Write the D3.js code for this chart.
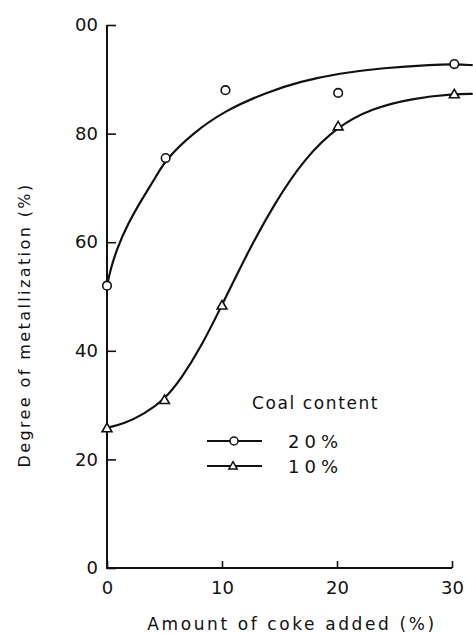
<!DOCTYPE html>
<html>
<head>
<meta charset="utf-8">
<script src="https://cdn.jsdelivr.net/npm/d3@7"></script>
<style>
  body { margin: 0; background: #fff; }
  text { font-family: "DejaVu Sans", sans-serif; fill: #111; }
</style>
</head>
<body>
<div id="plot_area"></div>
<script>
// measured points (coke added %, metallization %)
var coal20X = [0, 5.1, 10.3, 20.1, 30.2]
var coal20Y = [52, 75.5, 88, 87.5, 92.8]
var coal10X = [0, 5, 10, 20.1, 30.2]
var coal10Y = [25.8, 31, 48.4, 81.4, 87.3]

// hand-drawn fitted curves
var fit20X = [0, 0.3, 0.9, 1.8, 3.0, 4.3, 5.1, 7.4, 10.3, 13.9, 16.8, 20.2, 24, 28.4, 30.2, 31.8]
var fit20Y = [52, 55, 59, 63.3, 67.8, 72.2, 75.2, 80, 84.3, 87.6, 89.6, 91.1, 92.1, 92.7, 92.8, 92.6]
var fit10X = [0, 1.5, 3.2, 5, 6.5, 8.2, 10, 12.2, 14.6, 17.2, 20.1, 23, 26.5, 30.2, 31.8]
var fit10Y = [25.8, 26.6, 28.3, 31, 35, 40.8, 48.4, 58, 67.3, 75.5, 81.4, 84.6, 86.5, 87.3, 87.3]

var xTicks = [0, 10, 20, 30]
var xTickLabels = ["0", "10", "20", "30"]
var yTicks = [0, 20, 40, 60, 80, 100]
var yTickLabels = ["0", "20", "40", "60", "80", "00"]
var legendLabels = ["20%", "10%"]

var W = 473, H = 633

var svg = d3.select('#plot_area')
  .append("svg")
    .attr("width", W)
    .attr("height", H)

var x = d3.scaleLinear().domain([0, 30]).range([107, 452])
var y = d3.scaleLinear().domain([0, 100]).range([568, 25])

// Y axis, ticks pointing inward
var yAxis = svg.append("g")
  .attr("transform", "translate(" + x(0) + ",0)")
  .call(d3.axisLeft(y).tickValues(yTicks).tickSizeInner(-9).tickSizeOuter(0).tickPadding(9)
    .tickFormat(function(d, i) { return yTickLabels[i] }))
yAxis.select(".domain").remove()
yAxis.selectAll(".tick line").attr("stroke", "#111").attr("stroke-width", 1.6)
yAxis.selectAll(".tick text").style("font-size", "18px").attr("font-family", null)

// X axis, ticks pointing up
var xAxis = svg.append("g")
  .attr("transform", "translate(0," + y(0) + ")")
  .call(d3.axisBottom(x).tickValues(xTicks).tickSizeInner(-7).tickSizeOuter(0).tickPadding(13)
    .tickFormat(function(d, i) { return xTickLabels[i] }))
xAxis.select(".domain").remove()
xAxis.selectAll(".tick line").attr("stroke", "#111").attr("stroke-width", 1.6)
xAxis.selectAll(".tick text").style("font-size", "18px").attr("font-family", null)

// axis lines
svg.append("path")
  .attr("d", "M" + x(0) + "," + y(100) + "V" + y(0) + "H" + x(30))
  .attr("fill", "none")
  .attr("stroke", "#111")
  .attr("stroke-width", 2)

// titles
svg.append("text")
  .attr("x", 292).attr("y", 630)
  .attr("text-anchor", "middle")
  .style("font-size", "17px")
  .style("letter-spacing", "2.6px")
  .text("Amount of coke added (%)")

svg.append("text")
  .attr("transform", "translate(30,325) rotate(-90)")
  .attr("text-anchor", "middle")
  .style("font-size", "16px")
  .style("letter-spacing", "2.4px")
  .text("Degree of metallization (%)")

// fitted curves
var line = d3.line()
  .x(function(d) { return x(d[0]) })
  .y(function(d) { return y(d[1]) })
  .curve(d3.curveBasis)

svg.append("path")
  .datum(d3.zip(fit20X, fit20Y))
  .attr("d", line)
  .attr("fill", "none").attr("stroke", "#111").attr("stroke-width", 2.2)

svg.append("path")
  .datum(d3.zip(fit10X, fit10Y))
  .attr("d", line)
  .attr("fill", "none").attr("stroke", "#111").attr("stroke-width", 2.2)

// markers
var tri = d3.symbol().type(d3.symbolTriangle).size(42)

svg.selectAll(".c20")
  .data(d3.zip(coal20X, coal20Y))
  .enter()
  .append("circle")
    .attr("cx", function(d) { return x(d[0]) })
    .attr("cy", function(d) { return y(d[1]) })
    .attr("r", 4.3)
    .attr("fill", "#fff").attr("stroke", "#111").attr("stroke-width", 1.6)

svg.selectAll(".t10")
  .data(d3.zip(coal10X, coal10Y))
  .enter()
  .append("path")
    .attr("d", tri)
    .attr("transform", function(d) { return "translate(" + x(d[0]) + "," + (y(d[1]) + 1) + ")" })
    .attr("fill", "#fff").attr("stroke", "#111").attr("stroke-width", 1.6)

// legend
svg.append("text")
  .attr("x", 252).attr("y", 409)
  .style("font-size", "17px")
  .style("letter-spacing", "1.6px")
  .text("Coal content")

var legY = [441, 466]
legendLabels.forEach(function(lab, i) {
  svg.append("line")
    .attr("x1", 207).attr("x2", 262)
    .attr("y1", legY[i]).attr("y2", legY[i])
    .attr("stroke", "#111").attr("stroke-width", 2)
  if (i == 0) {
    svg.append("circle")
      .attr("cx", 234).attr("cy", legY[i]).attr("r", 4)
      .attr("fill", "#fff").attr("stroke", "#111").attr("stroke-width", 1.5)
  } else {
    svg.append("path")
      .attr("d", d3.symbol().type(d3.symbolTriangle).size(30))
      .attr("transform", "translate(233," + (legY[i] + 0.5) + ")")
      .attr("fill", "#fff").attr("stroke", "#111").attr("stroke-width", 1.5)
  }
  svg.append("text")
    .attr("x", 288).attr("y", legY[i] + 6.5)
    .style("font-size", "18px")
    .style("letter-spacing", "5px")
    .text(lab)
})
</script>
</body>
</html>
